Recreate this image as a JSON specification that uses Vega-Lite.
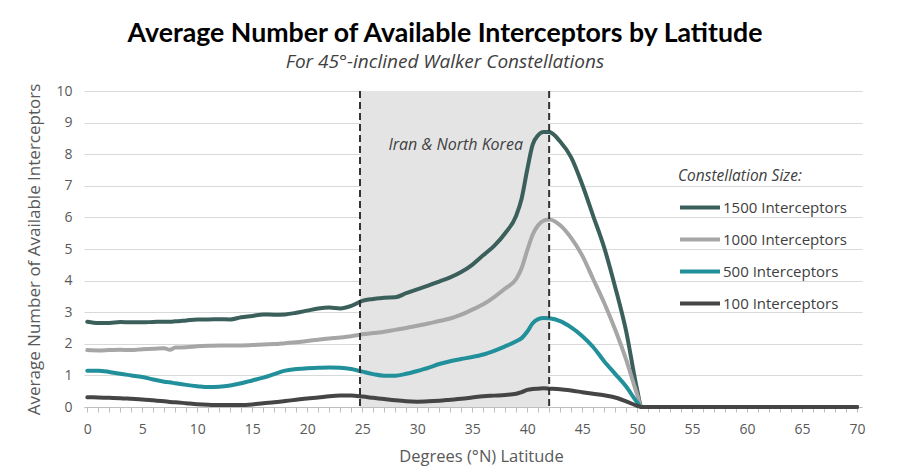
{
  "$schema": "https://vega.github.io/schema/vega-lite/v6.json",
  "autosize": "none",
  "width": 778,
  "height": 316,
  "padding": {"left": 84, "top": 91, "right": 37, "bottom": 63},
  "background": "white",
  "config": {
    "view": {"stroke": null},
    "font": "Open Sans",
    "axisX": {
      "grid": false,
      "domainColor": "#bfbfbf",
      "domainWidth": 1,
      "tickColor": "#bfbfbf",
      "tickSize": 5,
      "labelFont": "Open Sans",
      "labelFontSize": 14,
      "labelColor": "#595959",
      "labelPadding": 10,
      "labelOverlap": false,
      "titleFont": "Open Sans",
      "titleFontSize": 16.5,
      "titleFontWeight": "normal",
      "titleColor": "#595959",
      "titlePadding": 12,
      "titleX": 397
    },
    "axisY": {
      "grid": true,
      "gridColor": "#d9d9d9",
      "gridWidth": 1,
      "domain": false,
      "ticks": false,
      "labelFont": "Open Sans",
      "labelFontSize": 14,
      "labelColor": "#595959",
      "labelPadding": 12,
      "labelOverlap": false,
      "titleFont": "Open Sans",
      "titleFontSize": 17,
      "titleFontWeight": "normal",
      "titleColor": "#595959",
      "titlePadding": 12
    }
  },
  "title": {
    "text": "Average Number of Available Interceptors by Latitude",
    "subtitle": "For 45°-inclined Walker Constellations",
    "anchor": "middle",
    "frame": "group",
    "dx": -28,
    "offset": 11,
    "font": "Lato",
    "fontSize": 26.7,
    "fontWeight": "bold",
    "color": "#000000",
    "subtitleFont": "Open Sans",
    "subtitleFontSize": 19,
    "subtitleFontStyle": "italic",
    "subtitleColor": "#404040",
    "subtitlePadding": 6
  },
  "datasets": {
    "region": [{"label": "Iran & North Korea", "start": 24.8, "end": 42, "labelLat": 33.5, "labelY": 8.3}],
    "series": [
      {"lat": 0, "1500 Interceptors": 2.7, "1000 Interceptors": 1.8, "500 Interceptors": 1.15, "100 Interceptors": 0.31},
      {"lat": 1, "1500 Interceptors": 2.66, "1000 Interceptors": 1.79, "500 Interceptors": 1.15, "100 Interceptors": 0.3},
      {"lat": 2, "1500 Interceptors": 2.66, "1000 Interceptors": 1.8, "500 Interceptors": 1.11, "100 Interceptors": 0.29},
      {"lat": 3, "1500 Interceptors": 2.69, "1000 Interceptors": 1.81, "500 Interceptors": 1.05, "100 Interceptors": 0.28},
      {"lat": 4, "1500 Interceptors": 2.68, "1000 Interceptors": 1.8, "500 Interceptors": 1.0, "100 Interceptors": 0.26},
      {"lat": 5, "1500 Interceptors": 2.68, "1000 Interceptors": 1.83, "500 Interceptors": 0.95, "100 Interceptors": 0.24},
      {"lat": 6, "1500 Interceptors": 2.69, "1000 Interceptors": 1.84, "500 Interceptors": 0.87, "100 Interceptors": 0.21},
      {"lat": 7, "1500 Interceptors": 2.7, "1000 Interceptors": 1.86, "500 Interceptors": 0.8, "100 Interceptors": 0.18},
      {"lat": 7.5, "1500 Interceptors": 2.7, "1000 Interceptors": 1.81, "500 Interceptors": 0.78, "100 Interceptors": 0.16},
      {"lat": 8, "1500 Interceptors": 2.71, "1000 Interceptors": 1.88, "500 Interceptors": 0.75, "100 Interceptors": 0.15},
      {"lat": 9, "1500 Interceptors": 2.74, "1000 Interceptors": 1.89, "500 Interceptors": 0.7, "100 Interceptors": 0.12},
      {"lat": 10, "1500 Interceptors": 2.77, "1000 Interceptors": 1.92, "500 Interceptors": 0.66, "100 Interceptors": 0.09},
      {"lat": 11, "1500 Interceptors": 2.77, "1000 Interceptors": 1.94, "500 Interceptors": 0.63, "100 Interceptors": 0.07},
      {"lat": 12, "1500 Interceptors": 2.78, "1000 Interceptors": 1.95, "500 Interceptors": 0.64, "100 Interceptors": 0.06},
      {"lat": 13, "1500 Interceptors": 2.77, "1000 Interceptors": 1.95, "500 Interceptors": 0.68, "100 Interceptors": 0.06},
      {"lat": 14, "1500 Interceptors": 2.84, "1000 Interceptors": 1.95, "500 Interceptors": 0.75, "100 Interceptors": 0.06},
      {"lat": 15, "1500 Interceptors": 2.88, "1000 Interceptors": 1.96, "500 Interceptors": 0.84, "100 Interceptors": 0.08},
      {"lat": 16, "1500 Interceptors": 2.93, "1000 Interceptors": 1.98, "500 Interceptors": 0.93, "100 Interceptors": 0.12},
      {"lat": 17, "1500 Interceptors": 2.92, "1000 Interceptors": 1.99, "500 Interceptors": 1.04, "100 Interceptors": 0.15},
      {"lat": 18, "1500 Interceptors": 2.93, "1000 Interceptors": 2.02, "500 Interceptors": 1.15, "100 Interceptors": 0.19},
      {"lat": 19, "1500 Interceptors": 2.98, "1000 Interceptors": 2.05, "500 Interceptors": 1.2, "100 Interceptors": 0.23},
      {"lat": 20, "1500 Interceptors": 3.05, "1000 Interceptors": 2.09, "500 Interceptors": 1.23, "100 Interceptors": 0.27},
      {"lat": 21, "1500 Interceptors": 3.12, "1000 Interceptors": 2.13, "500 Interceptors": 1.24, "100 Interceptors": 0.3},
      {"lat": 22, "1500 Interceptors": 3.15, "1000 Interceptors": 2.17, "500 Interceptors": 1.25, "100 Interceptors": 0.34},
      {"lat": 23, "1500 Interceptors": 3.12, "1000 Interceptors": 2.2, "500 Interceptors": 1.24, "100 Interceptors": 0.36},
      {"lat": 24, "1500 Interceptors": 3.2, "1000 Interceptors": 2.24, "500 Interceptors": 1.2, "100 Interceptors": 0.36},
      {"lat": 25, "1500 Interceptors": 3.36, "1000 Interceptors": 2.3, "500 Interceptors": 1.12, "100 Interceptors": 0.33},
      {"lat": 26, "1500 Interceptors": 3.42, "1000 Interceptors": 2.34, "500 Interceptors": 1.04, "100 Interceptors": 0.29},
      {"lat": 27, "1500 Interceptors": 3.46, "1000 Interceptors": 2.38, "500 Interceptors": 0.99, "100 Interceptors": 0.25},
      {"lat": 28, "1500 Interceptors": 3.47, "1000 Interceptors": 2.44, "500 Interceptors": 0.99, "100 Interceptors": 0.21},
      {"lat": 29, "1500 Interceptors": 3.6, "1000 Interceptors": 2.5, "500 Interceptors": 1.05, "100 Interceptors": 0.18},
      {"lat": 30, "1500 Interceptors": 3.72, "1000 Interceptors": 2.57, "500 Interceptors": 1.14, "100 Interceptors": 0.17},
      {"lat": 31, "1500 Interceptors": 3.84, "1000 Interceptors": 2.64, "500 Interceptors": 1.24, "100 Interceptors": 0.18},
      {"lat": 32, "1500 Interceptors": 3.97, "1000 Interceptors": 2.72, "500 Interceptors": 1.36, "100 Interceptors": 0.2},
      {"lat": 33, "1500 Interceptors": 4.1, "1000 Interceptors": 2.8, "500 Interceptors": 1.45, "100 Interceptors": 0.23},
      {"lat": 34, "1500 Interceptors": 4.27, "1000 Interceptors": 2.92, "500 Interceptors": 1.52, "100 Interceptors": 0.26},
      {"lat": 35, "1500 Interceptors": 4.5, "1000 Interceptors": 3.08, "500 Interceptors": 1.58, "100 Interceptors": 0.3},
      {"lat": 36, "1500 Interceptors": 4.8, "1000 Interceptors": 3.25, "500 Interceptors": 1.66, "100 Interceptors": 0.34},
      {"lat": 37, "1500 Interceptors": 5.1, "1000 Interceptors": 3.48, "500 Interceptors": 1.78, "100 Interceptors": 0.36},
      {"lat": 38, "1500 Interceptors": 5.5, "1000 Interceptors": 3.75, "500 Interceptors": 1.92, "100 Interceptors": 0.38},
      {"lat": 39, "1500 Interceptors": 6.05, "1000 Interceptors": 4.05, "500 Interceptors": 2.08, "100 Interceptors": 0.42},
      {"lat": 39.5, "1500 Interceptors": 6.6, "1000 Interceptors": 4.4, "500 Interceptors": 2.18, "100 Interceptors": 0.47},
      {"lat": 40, "1500 Interceptors": 7.5, "1000 Interceptors": 4.95, "500 Interceptors": 2.38, "100 Interceptors": 0.54},
      {"lat": 40.5, "1500 Interceptors": 8.3, "1000 Interceptors": 5.45, "500 Interceptors": 2.65, "100 Interceptors": 0.57},
      {"lat": 41, "1500 Interceptors": 8.6, "1000 Interceptors": 5.75, "500 Interceptors": 2.78, "100 Interceptors": 0.58},
      {"lat": 41.5, "1500 Interceptors": 8.7, "1000 Interceptors": 5.9, "500 Interceptors": 2.82, "100 Interceptors": 0.59},
      {"lat": 42, "1500 Interceptors": 8.7, "1000 Interceptors": 5.93, "500 Interceptors": 2.81, "100 Interceptors": 0.58},
      {"lat": 43, "1500 Interceptors": 8.4, "1000 Interceptors": 5.75, "500 Interceptors": 2.72, "100 Interceptors": 0.56},
      {"lat": 44, "1500 Interceptors": 7.9, "1000 Interceptors": 5.35, "500 Interceptors": 2.52, "100 Interceptors": 0.52},
      {"lat": 45, "1500 Interceptors": 7.05, "1000 Interceptors": 4.8, "500 Interceptors": 2.25, "100 Interceptors": 0.47},
      {"lat": 46, "1500 Interceptors": 6.05, "1000 Interceptors": 4.05, "500 Interceptors": 1.9, "100 Interceptors": 0.42},
      {"lat": 47, "1500 Interceptors": 5.05, "1000 Interceptors": 3.3, "500 Interceptors": 1.45, "100 Interceptors": 0.37},
      {"lat": 48, "1500 Interceptors": 3.8, "1000 Interceptors": 2.45, "500 Interceptors": 1.05, "100 Interceptors": 0.3},
      {"lat": 49, "1500 Interceptors": 2.4, "1000 Interceptors": 1.5, "500 Interceptors": 0.65, "100 Interceptors": 0.18},
      {"lat": 50, "1500 Interceptors": 0.55, "1000 Interceptors": 0.4, "500 Interceptors": 0.15, "100 Interceptors": 0.04},
      {"lat": 50.4, "1500 Interceptors": 0, "1000 Interceptors": 0, "500 Interceptors": 0, "100 Interceptors": 0},
      {"lat": 52, "1500 Interceptors": 0, "1000 Interceptors": 0, "500 Interceptors": 0, "100 Interceptors": 0},
      {"lat": 55, "1500 Interceptors": 0, "1000 Interceptors": 0, "500 Interceptors": 0, "100 Interceptors": 0},
      {"lat": 60, "1500 Interceptors": 0, "1000 Interceptors": 0, "500 Interceptors": 0, "100 Interceptors": 0},
      {"lat": 65, "1500 Interceptors": 0, "1000 Interceptors": 0, "500 Interceptors": 0, "100 Interceptors": 0},
      {"lat": 70, "1500 Interceptors": 0, "1000 Interceptors": 0, "500 Interceptors": 0, "100 Interceptors": 0}
    ]
  },
  "layer": [
    {
      "data": {"name": "region"},
      "mark": {"type": "rect", "fill": "#e4e4e4"},
      "encoding": {
        "x": {
          "field": "start", "type": "quantitative",
          "scale": {"domain": [-0.3, 70.45], "nice": false, "zero": false},
          "axis": {
            "title": "Degrees (°N) Latitude",
            "values": [0,1,2,3,4,5,6,7,8,9,10,11,12,13,14,15,16,17,18,19,20,21,22,23,24,25,26,27,28,29,30,31,32,33,34,35,36,37,38,39,40,41,42,43,44,45,46,47,48,49,50,51,52,53,54,55,56,57,58,59,60,61,62,63,64,65,66,67,68,69,70],
            "labelExpr": "datum.value % 5 === 0 ? datum.label : ''"
          }
        },
        "x2": {"field": "end"}
      }
    },
    {
      "data": {"name": "series"},
      "transform": [
        {"fold": ["1500 Interceptors", "1000 Interceptors", "500 Interceptors", "100 Interceptors"], "as": ["series", "value"]}
      ],
      "mark": {"type": "line", "strokeWidth": 4, "interpolate": "monotone", "strokeCap": "round"},
      "encoding": {
        "x": {
          "field": "lat", "type": "quantitative",
          "scale": {"domain": [-0.3, 70.45], "nice": false, "zero": false},
          "axis": {
            "title": "Degrees (°N) Latitude",
            "values": [0,1,2,3,4,5,6,7,8,9,10,11,12,13,14,15,16,17,18,19,20,21,22,23,24,25,26,27,28,29,30,31,32,33,34,35,36,37,38,39,40,41,42,43,44,45,46,47,48,49,50,51,52,53,54,55,56,57,58,59,60,61,62,63,64,65,66,67,68,69,70],
            "labelExpr": "datum.value % 5 === 0 ? datum.label : ''"
          }
        },
        "y": {
          "field": "value", "type": "quantitative",
          "scale": {"domain": [0, 10], "nice": false},
          "axis": {
            "title": "Average Number of Available Interceptors",
            "values": [0,1,2,3,4,5,6,7,8,9,10]
          }
        },
        "color": {
          "field": "series", "type": "nominal",
          "scale": {
            "domain": ["1500 Interceptors", "1000 Interceptors", "500 Interceptors", "100 Interceptors"],
            "range": ["#3b605b", "#a6a6a6", "#21909a", "#454545"]
          },
          "legend": {
            "title": "Constellation Size:",
            "orient": "none",
            "legendX": 594,
            "legendY": 78,
            "titleFont": "Open Sans",
            "titleFontSize": 15.5,
            "titleFontStyle": "italic",
            "titleFontWeight": "normal",
            "titleColor": "#404040",
            "titlePadding": 11,
            "labelFont": "Open Sans",
            "labelFontSize": 15,
            "labelColor": "#404040",
            "labelOffset": 21,
            "symbolType": "M-1,0H3",
            "symbolSize": 400,
            "symbolStrokeWidth": 4,
            "rowPadding": 12
          }
        },
        "order": {"field": "lat", "type": "quantitative"}
      }
    },
    {
      "data": {"name": "region"},
      "mark": {"type": "rule", "stroke": "#333333", "strokeWidth": 2, "strokeDash": [7, 4]},
      "encoding": {
        "x": {
          "field": "start", "type": "quantitative",
          "axis": {
            "title": "Degrees (°N) Latitude",
            "values": [0,1,2,3,4,5,6,7,8,9,10,11,12,13,14,15,16,17,18,19,20,21,22,23,24,25,26,27,28,29,30,31,32,33,34,35,36,37,38,39,40,41,42,43,44,45,46,47,48,49,50,51,52,53,54,55,56,57,58,59,60,61,62,63,64,65,66,67,68,69,70],
            "labelExpr": "datum.value % 5 === 0 ? datum.label : ''"
          }
        }
      }
    },
    {
      "data": {"name": "region"},
      "mark": {"type": "rule", "stroke": "#333333", "strokeWidth": 2, "strokeDash": [7, 4]},
      "encoding": {
        "x": {
          "field": "end", "type": "quantitative",
          "axis": {
            "title": "Degrees (°N) Latitude",
            "values": [0,1,2,3,4,5,6,7,8,9,10,11,12,13,14,15,16,17,18,19,20,21,22,23,24,25,26,27,28,29,30,31,32,33,34,35,36,37,38,39,40,41,42,43,44,45,46,47,48,49,50,51,52,53,54,55,56,57,58,59,60,61,62,63,64,65,66,67,68,69,70],
            "labelExpr": "datum.value % 5 === 0 ? datum.label : ''"
          }
        }
      }
    },
    {
      "data": {"name": "region"},
      "mark": {"type": "text", "font": "Open Sans", "fontSize": 16, "fontStyle": "italic", "color": "#404040", "align": "center", "baseline": "middle"},
      "encoding": {
        "x": {
          "field": "labelLat", "type": "quantitative",
          "axis": {
            "title": "Degrees (°N) Latitude",
            "values": [0,1,2,3,4,5,6,7,8,9,10,11,12,13,14,15,16,17,18,19,20,21,22,23,24,25,26,27,28,29,30,31,32,33,34,35,36,37,38,39,40,41,42,43,44,45,46,47,48,49,50,51,52,53,54,55,56,57,58,59,60,61,62,63,64,65,66,67,68,69,70],
            "labelExpr": "datum.value % 5 === 0 ? datum.label : ''"
          }
        },
        "y": {
          "field": "labelY", "type": "quantitative",
          "axis": {
            "title": "Average Number of Available Interceptors",
            "values": [0,1,2,3,4,5,6,7,8,9,10]
          }
        },
        "text": {"field": "label"}
      }
    }
  ]
}
